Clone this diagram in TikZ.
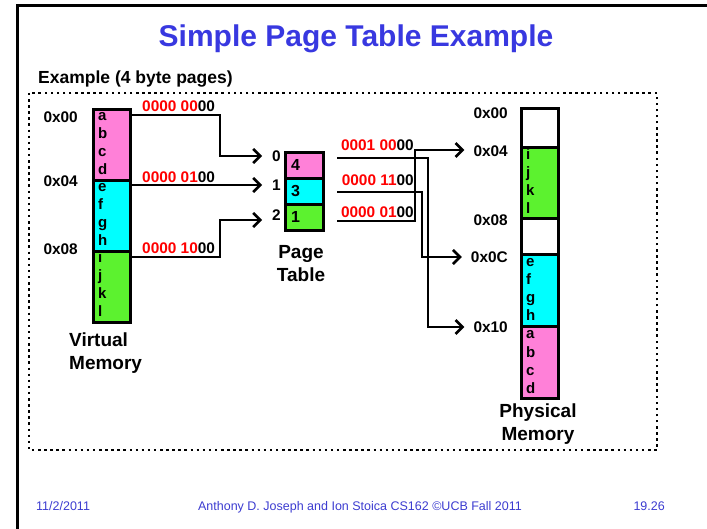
\documentclass[tikz,border=0pt]{standalone}
\usepackage{fontspec}
\setmainfont{Liberation Sans}
\usetikzlibrary{arrows.meta}

\definecolor{pagepink}{HTML}{FF80D8}
\definecolor{pagecyan}{HTML}{00FFFF}
\definecolor{pagegreen}{HTML}{5CF22F}
\definecolor{titleblue}{HTML}{3838E0}
\definecolor{footblue}{HTML}{3C3CD0}
\definecolor{bitred}{HTML}{FF0000}

\tikzset{
  txt/.style={inner sep=0pt, font=\bfseries\fontsize{15.4}{18}\selectfont},
  caption/.style={inner sep=0pt, font=\bfseries\fontsize{19}{23}\selectfont, align=left},
  ccaption/.style={caption, align=center},
  title/.style={inner sep=0pt, text=titleblue, font=\bfseries\fontsize{30}{36}\selectfont},
  foot/.style={inner sep=0pt, text=footblue, font=\fontsize{12.5}{14}\selectfont},
  memcell/.style={draw, line width=3pt, inner sep=0pt, anchor=north west,
    minimum width=37pt},
  letter/.style={inner sep=0pt, anchor=base west, font=\bfseries\fontsize{15}{16}\selectfont},
  link/.style={line width=2.6pt, -{Straight Barb[length=7pt,width=14pt]}},
  dottedframe/.style={line width=2.5pt, dash pattern=on 2.5pt off 3.6pt},
}

\newcommand{\bits}[2]{\textcolor{bitred}{#1}#2}

\begin{document}
\begin{tikzpicture}[x=1pt, y=-1pt]
\useasboundingbox (0,0) rectangle (707,529);

% slide frame and heading
\draw[line width=3pt] (707,6) -- (17,6) -- (17,529);
\node[title, anchor=base] (ttl) at (356,47) {Simple Page Table Example};
\node[txt, font=\bfseries\fontsize{17.5}{20}\selectfont, anchor=base west] (sub) at (38,84) {Example (4 byte pages)};
\draw[dottedframe] (29,93) rectangle (657,450);

% virtual memory
\node[memcell, fill=pagepink,  minimum height=71pt] (vm0) at (92,108) {};
\node[memcell, fill=pagecyan,  minimum height=71pt] (vm1) at (92,179) {};
\node[memcell, fill=pagegreen, minimum height=71pt] (vm2) at (92,250) {};
\foreach \l [count=\i from 0] in {a,b,c,d} \node[letter] (vl\l) at (98,{121+18*\i}) {\l};
\foreach \l [count=\i from 0] in {e,f,g,h} \node[letter] (vl\l) at (98,{192+18*\i}) {\l};
\foreach \l [count=\i from 0] in {i,j,k,l} \node[letter] (vl\l) at (98,{263+18*\i}) {\l};
\node[txt, anchor=base east] (va0) at (78,122.5) {0x00};
\node[txt, anchor=base east] (va4) at (78,186.5) {0x04};
\node[txt, anchor=base east] (va8) at (78,254.5) {0x08};
\node[caption, anchor=north west] (vcap) at (69,333) {Virtual\\Memory};

% page table
\node[memcell, fill=pagepink,  minimum width=38pt, minimum height=26pt] (pt0) at (284,151) {};
\node[memcell, fill=pagecyan,  minimum width=38pt, minimum height=26pt] (pt1) at (284,177) {};
\node[memcell, fill=pagegreen, minimum width=38pt, minimum height=26pt] (pt2) at (284,203) {};
\node[txt, font=\bfseries\fontsize{16}{18}\selectfont, anchor=base west] (pn0) at (291,171) {4};
\node[txt, font=\bfseries\fontsize{16}{18}\selectfont, anchor=base west] (pn1) at (291,197) {3};
\node[txt, font=\bfseries\fontsize{16}{18}\selectfont, anchor=base west] (pn2) at (291,223) {1};
\node[txt, anchor=west] (ix0) at (272,156) {0};
\node[txt, anchor=west] (ix1) at (272,185) {1};
\node[txt, anchor=west] (ix2) at (272,215) {2};
\node[ccaption, anchor=north] (pcap) at (301,245) {Page\\Table};

% physical memory
\node[memcell, fill=white,     minimum height=39pt] (pm0) at (520,107) {};
\node[memcell, fill=pagegreen, minimum height=71pt] (pm1) at (520,146) {};
\node[memcell, fill=white,     minimum height=36pt] (pm2) at (520,217) {};
\node[memcell, fill=pagecyan,  minimum height=72pt] (pm3) at (520,253) {};
\node[memcell, fill=pagepink,  minimum height=72pt] (pm4) at (520,325) {};
\foreach \l [count=\i from 0] in {i,j,k,l} \node[letter] (pl\l) at (526,{160+18*\i}) {\l};
\foreach \l [count=\i from 0] in {e,f,g,h} \node[letter] (pl\l) at (526,{267+18*\i}) {\l};
\foreach \l [count=\i from 0] in {a,b,c,d} \node[letter] (pl\l) at (526,{339+18*\i}) {\l};
\node[txt, anchor=east] (pa00) at (508,113) {0x00};
\node[txt, anchor=east] (pa04) at (508,151) {0x04};
\node[txt, anchor=east] (pa08) at (508,220) {0x08};
\node[txt, anchor=east] (pa0C) at (508,257) {0x0C};
\node[txt, anchor=east] (pa10) at (508,327) {0x10};
\node[ccaption, anchor=north] (mcap) at (538,404) {Physical\\Memory};

% virtual addresses and their lookups
\node[txt, anchor=base west] (vb0) at (142,111.5) {\bits{0000 00}{00}};
\node[txt, anchor=base west] (vb1) at (142,182.5) {\bits{0000 01}{00}};
\node[txt, anchor=base west] (vb2) at (142,253.5) {\bits{0000 10}{00}};
\draw[link] (vm0.east |- 0,115) -- (220,115) |- ([xshift=-10pt]ix0.west);
\draw[link] (vm1.east |- 0,185) -- ([xshift=-10pt]ix1.west);
\draw[link] (vm2.east |- 0,257) -- (220,257) |- ([xshift=-10pt,yshift=-5pt]ix2.west);

% physical frame numbers and their targets
\node[txt, anchor=base east] (fb0) at (414,150.5) {\bits{0001 00}{00}};
\node[txt, anchor=base east] (fb1) at (414,185.5) {\bits{0000 11}{00}};
\node[txt, anchor=base east] (fb2) at (414,217.5) {\bits{0000 01}{00}};
\draw[link] ([xshift=12pt]pt0.east |- 0,158) -- (428,158) |- ([xshift=-9pt]pa10.west);
\draw[link] ([xshift=12pt]pt1.east |- 0,192) -- (422,192) |- ([xshift=-9pt]pa0C.west);
\draw[link] ([xshift=12pt]pt2.east |- 0,221) -- (415,221) |- ([xshift=-9pt,yshift=1pt]pa04.west);

% footer
\node[foot, anchor=base west] (fdate) at (36,510) {11/2/2011};
\node[foot, anchor=base] (fauth) at (360,510) {Anthony D. Joseph and Ion Stoica CS162 ©UCB Fall 2011};
\node[foot, anchor=base east] (fpage) at (665,510) {19.26};
\end{tikzpicture}
\end{document}
